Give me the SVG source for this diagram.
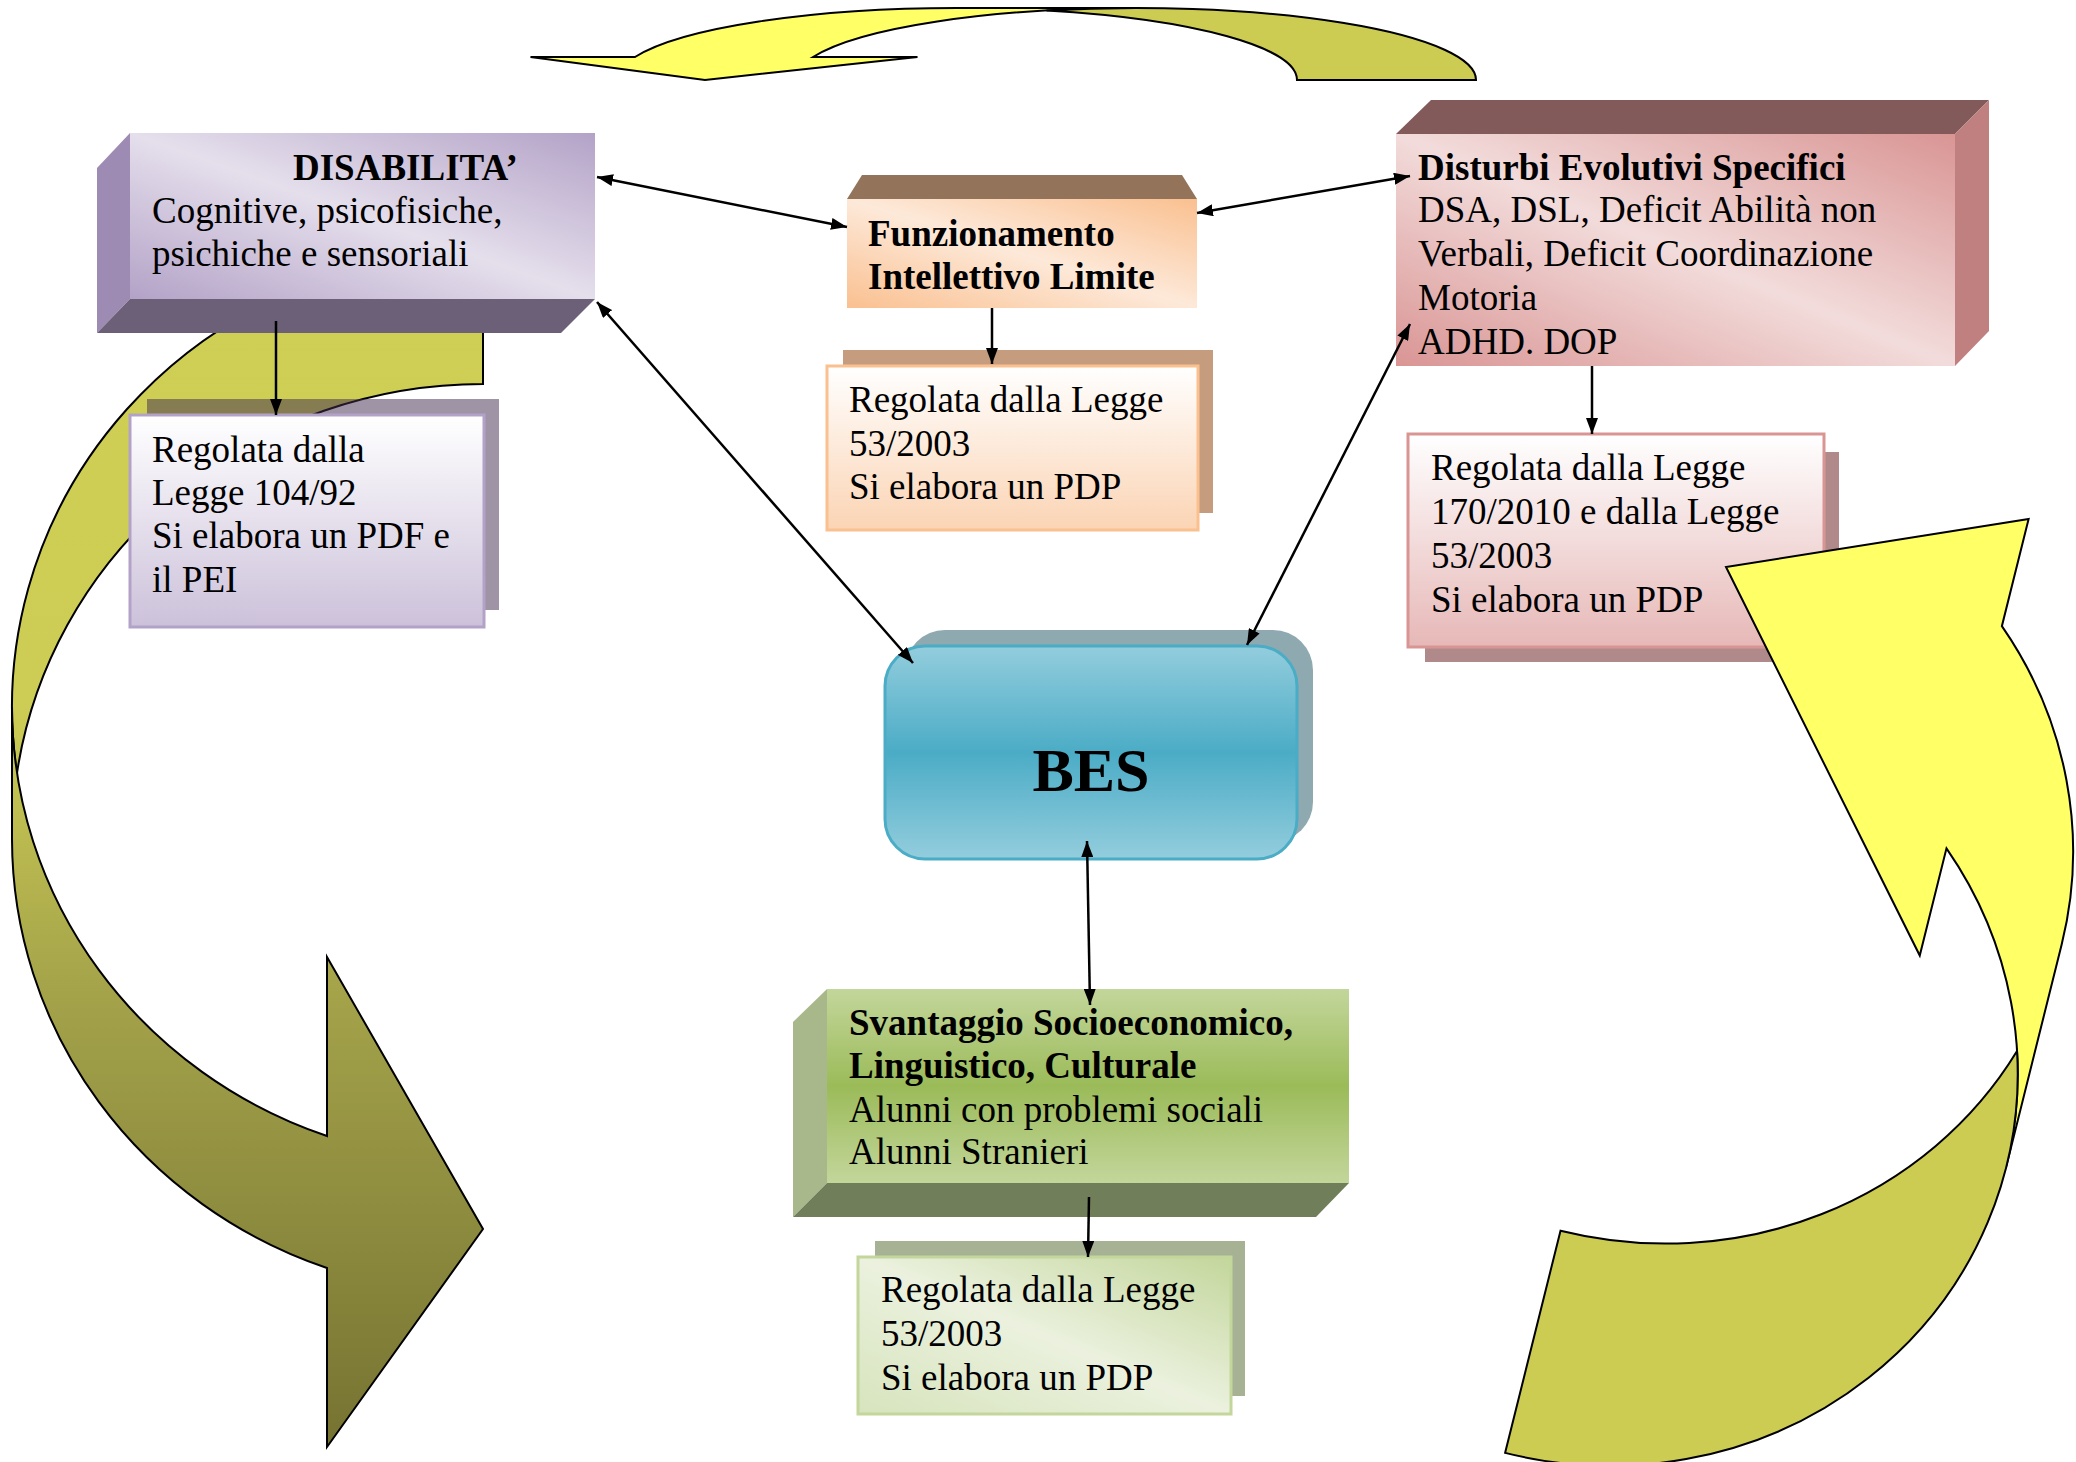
<svg xmlns="http://www.w3.org/2000/svg" width="2076" height="1462" viewBox="0 0 2076 1462">
<defs>
<style>
text { font-family: "Liberation Serif", "Times New Roman", serif; font-size: 37px; fill: #000; }
.b { font-weight: bold; }
.conn { stroke: #000; stroke-width: 2.5; fill: none; marker-end: url(#ah); }
.dbl { marker-start: url(#ah); }
.outline { stroke: #000; stroke-width: 2; stroke-linejoin: miter; }
</style>
<marker id="ah" viewBox="0 0 16 12" refX="16" refY="6" markerWidth="16" markerHeight="12" markerUnits="userSpaceOnUse" orient="auto-start-reverse"><path d="M0,0 L16,6 L0,12 z" fill="#000"/></marker>
<linearGradient id="gArrowL" gradientUnits="userSpaceOnUse" x1="0" y1="252" x2="0" y2="1447">
<stop offset="0" stop-color="#cfcf55"/><stop offset="0.38" stop-color="#cdcd55"/><stop offset="0.62" stop-color="#a4a34a"/><stop offset="1" stop-color="#767332"/>
</linearGradient>
<linearGradient id="gDis" x1="0" y1="1" x2="1" y2="0"><stop offset="0" stop-color="#b3a2c7"/><stop offset="0.5" stop-color="#e5dfec"/><stop offset="1" stop-color="#b3a2c7"/></linearGradient>
<linearGradient id="gFunz" x1="0" y1="1" x2="1" y2="0"><stop offset="0" stop-color="#fac090"/><stop offset="0.5" stop-color="#fde9d9"/><stop offset="1" stop-color="#fac090"/></linearGradient>
<linearGradient id="gDes" x1="0" y1="1" x2="1" y2="0"><stop offset="0" stop-color="#d99594"/><stop offset="0.5" stop-color="#f2dcdb"/><stop offset="1" stop-color="#d99594"/></linearGradient>
<linearGradient id="gSv" x1="0" y1="0" x2="0" y2="1"><stop offset="0" stop-color="#c3d69b"/><stop offset="0.5" stop-color="#9bbb59"/><stop offset="1" stop-color="#c3d69b"/></linearGradient>
<linearGradient id="gBes" x1="0" y1="0" x2="0" y2="1"><stop offset="0" stop-color="#93cddd"/><stop offset="0.5" stop-color="#4bacc6"/><stop offset="1" stop-color="#93cddd"/></linearGradient>
<linearGradient id="gRegDis" x1="0" y1="0" x2="0" y2="1"><stop offset="0" stop-color="#ffffff"/><stop offset="1" stop-color="#ccc1da"/></linearGradient>
<linearGradient id="gRegFunz" x1="0" y1="0" x2="0" y2="1"><stop offset="0" stop-color="#ffffff"/><stop offset="1" stop-color="#fbd4b4"/></linearGradient>
<linearGradient id="gRegDes" x1="0" y1="0" x2="0" y2="1"><stop offset="0" stop-color="#ffffff"/><stop offset="1" stop-color="#e6b8b7"/></linearGradient>
<linearGradient id="gRegSv" x1="0" y1="1" x2="1" y2="0"><stop offset="0" stop-color="#d7e4bd"/><stop offset="0.5" stop-color="#ebf1de"/><stop offset="1" stop-color="#c3d69b"/></linearGradient>
</defs>
<rect x="0" y="0" width="2076" height="1462" fill="#ffffff"/>

<g id="arrow-left">
<path d="M 483,384 A 471 455 0 0 0 17,773 A 471 455 0 0 1 483,252 Z" fill="url(#gArrowL)" class="outline"/>
<path d="M 12,707 A 471 455 0 0 0 327,1136 L 327,957 L 483,1229 L 327,1447 L 327,1268 A 471 455 0 0 1 12,839 Z" fill="url(#gArrowL)" class="outline"/>
</g>

<g id="arrow-top">
<path d="M 635,57 A 339.9 72 0 0 1 957.1,8 L 1136,8 A 339.9 72 0 0 0 813,57 L 917.5,57 L 705,80 L 530.5,57 Z" fill="#ffff66" class="outline"/>
<path d="M 1476,80 A 339.9 72 0 0 0 1046.5,10.5 A 339.9 72 0 0 1 1297,80 Z" fill="#cccc52" class="outline"/>
</g>

<g id="disabilita">
<polygon points="97,168 130,133 130,299 97,333" fill="#9d8bb3"/>
<polygon points="97,333 130,299 595,299 561,333" fill="#6b6078"/>
<rect x="130" y="133" width="465" height="166" fill="url(#gDis)"/>
<text class="b" x="293" y="180">DISABILITA’</text>
<text x="152" y="223">Cognitive, psicofisiche,</text>
<text x="152" y="266">psichiche e sensoriali</text>
</g>

<g id="regolata-disabilita">
<rect x="147" y="399" width="352" height="211" fill="#412d50" fill-opacity="0.51"/>
<rect x="130" y="415" width="354" height="212" fill="url(#gRegDis)" stroke="#b3a2c7" stroke-width="3"/>
<text x="152" y="462">Regolata dalla</text>
<text x="152" y="505">Legge 104/92</text>
<text x="152" y="548">Si elabora un PDF e</text>
<text x="152" y="592">il PEI</text>
</g>

<g id="funzionamento">
<polygon points="847,199 862,175 1182,175 1197,199" fill="#93735a"/>
<rect x="847" y="199" width="350" height="109" fill="url(#gFunz)"/>
<text class="b" x="868" y="246">Funzionamento</text>
<text class="b" x="868" y="289">Intellettivo Limite</text>
</g>

<g id="regolata-funzionamento">
<rect x="843" y="350" width="370" height="163" fill="#c69c7e"/>
<rect x="827" y="366" width="371" height="164" fill="url(#gRegFunz)" stroke="#fac090" stroke-width="3"/>
<text x="849" y="412">Regolata dalla Legge</text>
<text x="849" y="456">53/2003</text>
<text x="849" y="499">Si elabora un PDP</text>
</g>

<g id="disturbi">
<polygon points="1396,134 1431,100 1989,100 1955,134" fill="#825a5a"/>
<polygon points="1955,134 1989,100 1989,331 1955,366" fill="#c0807f"/>
<rect x="1396" y="134" width="559" height="232" fill="url(#gDes)"/>
<text class="b" x="1418" y="180">Disturbi Evolutivi Specifici</text>
<text x="1418" y="222">DSA, DSL, Deficit Abilità non</text>
<text x="1418" y="266">Verbali, Deficit Coordinazione</text>
<text x="1418" y="310">Motoria</text>
<text x="1418" y="354">ADHD. DOP</text>
</g>

<g id="regolata-disturbi">
<rect x="1425" y="452" width="414" height="210" fill="#b08a8a"/>
<rect x="1408" y="434" width="416" height="213" fill="url(#gRegDes)" stroke="#d99594" stroke-width="3"/>
<text x="1431" y="480">Regolata dalla Legge</text>
<text x="1431" y="524">170/2010 e dalla Legge</text>
<text x="1431" y="568">53/2003</text>
<text x="1431" y="612">Si elabora un PDP</text>
</g>

<g id="bes">
<rect x="905" y="630" width="408" height="212" rx="40" ry="40" fill="#8fa9b1"/>
<rect x="885" y="646" width="412" height="213" rx="40" ry="40" fill="url(#gBes)" stroke="#4bacc6" stroke-width="3"/>
<text class="b" x="1091" y="791" text-anchor="middle" style="font-size:62px">BES</text>
</g>

<g id="svantaggio">
<polygon points="793,1022 827,989 827,1183 793,1217" fill="#a9b88a"/>
<polygon points="793,1217 827,1183 1349,1183 1316,1217" fill="#717e5a"/>
<rect x="827" y="989" width="522" height="194" fill="url(#gSv)"/>
<text class="b" x="849" y="1035">Svantaggio Socioeconomico,</text>
<text class="b" x="849" y="1078">Linguistico, Culturale</text>
<text x="849" y="1122">Alunni con problemi sociali</text>
<text x="849" y="1164">Alunni Stranieri</text>
</g>

<g id="regolata-svantaggio">
<rect x="875" y="1241" width="370" height="155" fill="#a6b293"/>
<rect x="858" y="1257" width="373" height="157" fill="url(#gRegSv)" stroke="#c3d69b" stroke-width="3"/>
<text x="881" y="1302">Regolata dalla Legge</text>
<text x="881" y="1346">53/2003</text>
<text x="881" y="1390">Si elabora un PDP</text>
</g>

<g id="arrow-right" transform="translate(1726,567) rotate(14)">
<path d="M 417,513.75 A 417 399.25 0 0 0 282,219.65 L 282,330.15 L 0,0 L 282,-119.85 L 282,-9.35 A 417 399.25 0 0 1 417,284.75 Z" fill="#ffff66" class="outline"/>
<path d="M 0,684 A 417 399.25 0 0 0 399.5,399.25 A 417 399.25 0 0 1 0,913 Z" fill="#cccc52" class="outline"/>
</g>

<g id="connectors">
<path class="conn dbl" d="M 597,177 L 847,227"/>
<path class="conn dbl" d="M 1197,213 L 1410,176"/>
<path class="conn" d="M 276,321 L 276,415"/>
<path class="conn" d="M 992,308 L 992,364"/>
<path class="conn" d="M 1592,366 L 1592,434"/>
<path class="conn dbl" d="M 597,302 L 913,663"/>
<path class="conn dbl" d="M 1410,324 L 1247,645"/>
<path class="conn dbl" d="M 1087,841 L 1090,1005"/>
<path class="conn" d="M 1089,1197 L 1088,1257"/>
</g>
</svg>
